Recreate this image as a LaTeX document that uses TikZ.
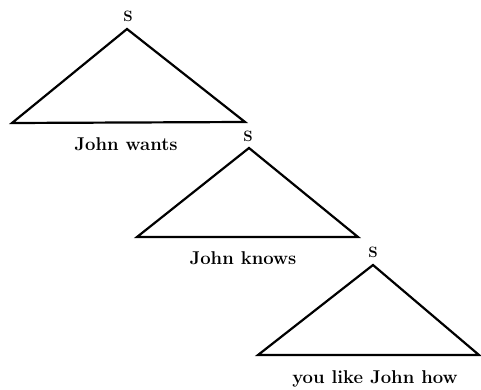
\documentclass[tikz,border=0pt]{standalone}
\begin{document}
\begin{tikzpicture}[x=1pt,y=-1pt,
  tri/.style={line width=2.2pt,line join=miter},
  slabel/.style={font=\fontsize{15}{16}\selectfont\bfseries,inner sep=0pt},
  wlabel/.style={font=\fontsize{18.5}{20}\selectfont\bfseries,inner sep=0pt,anchor=base}]
\useasboundingbox (0,0) rectangle (481,390);
% triangle 1
\coordinate (a1) at (127,29);
\coordinate (l1) at (12,123);
\coordinate (r1) at (245,122);
\draw[tri] (a1) -- (l1) -- (r1) -- cycle;
\node[slabel] (s1) at (128,16) {S};
\node[wlabel] (w1) at (126,150) {John wants};
% triangle 2
\coordinate (a2) at (249,148);
\coordinate (l2) at (137,237);
\coordinate (r2) at (358,237);
\draw[tri] (a2) -- (l2) -- (r2) -- cycle;
\node[slabel] (s2) at (248,136) {S};
\node[wlabel] (w2) at (243,264) {John knows};
% triangle 3
\coordinate (a3) at (373,265);
\coordinate (l3) at (258,355);
\coordinate (r3) at (479,355);
\draw[tri] (a3) -- (l3) -- (r3) -- cycle;
\node[slabel] (s3) at (373,252) {S};
\node[wlabel] (w3) at (375,383) {you like John how};
\end{tikzpicture}
\end{document}
